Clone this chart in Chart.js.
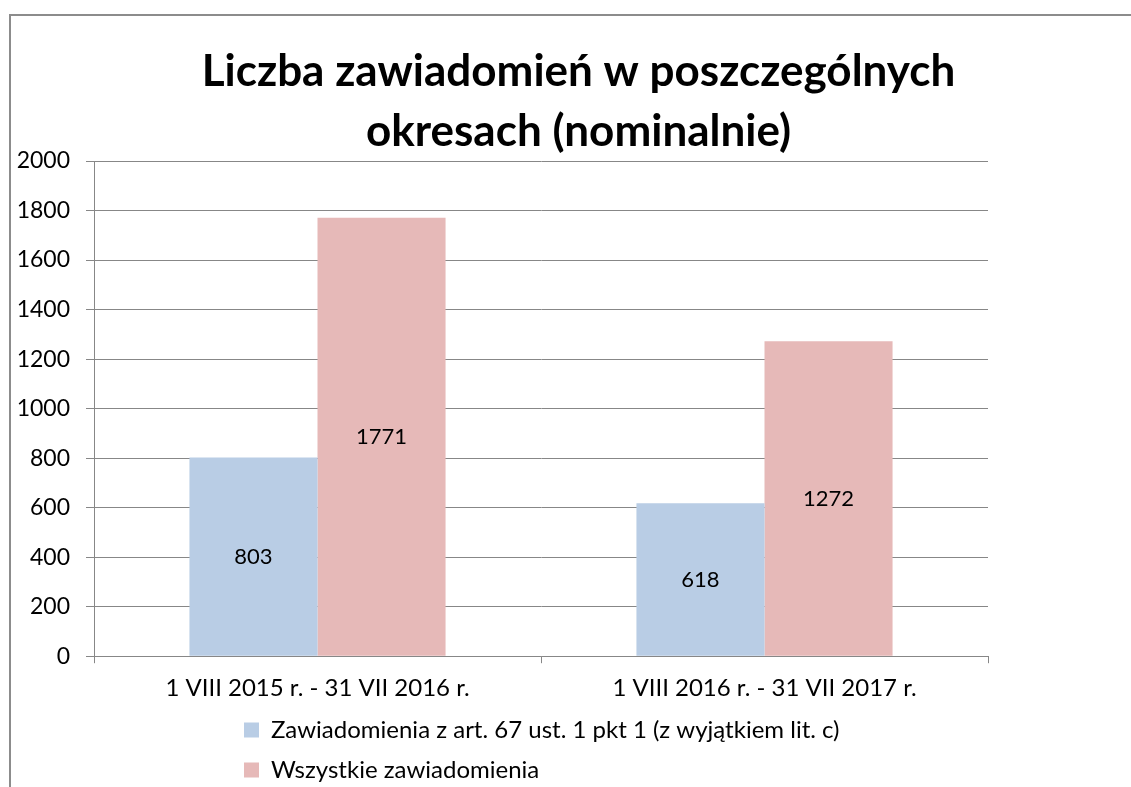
<!DOCTYPE html>
<html>
<head>
<meta charset="utf-8">
<script src="https://cdn.jsdelivr.net/npm/chart.js@4"></script>
<style>
  html, body { margin: 0; padding: 0; background: #fff; overflow: hidden; }
  #frame {
    position: absolute; left: 9px; top: 14px;
    border-left: 2px solid #8c8c8c; border-top: 2px solid #8c8c8c;
    width: 1135px; height: 790px;
  }
  #chart { display: block; }
</style>
</head>
<body>
<div id="frame"><canvas id="chart" width="1135" height="776"></canvas></div>
<script>
// data
const categories = ["1 VIII 2015 r. - 31 VII 2016 r.", "1 VIII 2016 r. - 31 VII 2017 r."];
const seriesNames = ["Zawiadomienia z art. 67 ust. 1 pkt 1 (z wyjątkiem lit. c)", "Wszystkie zawiadomienia"];
const art67Values = [803, 618];
const allValues = [1771, 1272];
const titleLines = ["Liczba zawiadomień w poszczególnych", "okresach (nominalnie)"];

const FONT = "Lato, 'Open Sans', sans-serif";
const gridColor = "#878787";

// numbers in the middle of every bar
const barLabels = {
  id: "barLabels",
  afterDatasetsDraw(chart) {
    const ctx = chart.ctx;
    ctx.save();
    ctx.font = "22px " + FONT;
    ctx.fillStyle = "#000";
    ctx.textAlign = "center";
    ctx.textBaseline = "middle";
    chart.data.datasets.forEach((ds, i) => {
      chart.getDatasetMeta(i).data.forEach((bar, j) => {
        const p = bar.getCenterPoint();
        ctx.fillText(ds.data[j], p.x, p.y);
      });
    });
    ctx.restore();
  },
};

// title centred on the whole canvas, legend rows start at the same x
const boxShift = {
  id: "boxShift",
  beforeDraw(chart) {
    chart.titleBlock.left = 0;
    chart.titleBlock.right = chart.width;
    const lg = chart.legend;
    const pad = lg.options.labels.padding;
    const w = Math.max(...lg.lineWidths);
    lg.left = chart.chartArea.left + 150 - pad;
    lg.right = lg.left + w + pad;
  },
};

const config = {
  type: "bar",
  data: {
    labels: categories,
    datasets: [
      {
        label: seriesNames[0],
        data: art67Values,
        backgroundColor: "#B9CDE5",
        categoryPercentage: 0.573,
        barPercentage: 1,
      },
      {
        label: seriesNames[1],
        data: allValues,
        backgroundColor: "#E6B9B8",
        categoryPercentage: 0.573,
        barPercentage: 1,
      },
    ],
  },
  options: {
    responsive: false,
    animation: false,
    layout: { padding: { left: 0, right: 158, top: 0, bottom: 0 } },
    plugins: {
      title: {
        display: true,
        text: titleLines,
        color: "#000",
        font: { family: FONT, size: 44, weight: "bold", lineHeight: 1.364 },
        padding: { top: 26, bottom: -1 },
      },
      legend: {
        position: "bottom",
        align: "start",
        fullSize: false,
        labels: {
          color: "#000",
          font: { family: FONT, size: 24 },
          boxWidth: 15,
          boxHeight: 15,
          padding: 16,
        },
      },
      tooltip: { enabled: false },
    },
    scales: {
      x: {
        afterFit(scale) { scale.height -= 12; },
        grid: {
          drawOnChartArea: false,
          drawTicks: true,
          tickLength: 7,
          color: gridColor,
          offset: true,
        },
        border: { color: gridColor, width: 1 },
        ticks: { color: "#000", font: { family: FONT, size: 24 }, padding: 11 },
      },
      y: {
        min: 0,
        max: 2000,
        afterFit(scale) { scale.width = 83; },
        grid: { color: gridColor, tickLength: 8 },
        border: { color: gridColor, width: 1 },
        ticks: {
          stepSize: 200,
          color: "#000",
          font: { family: FONT, size: 23 },
          padding: 16,
          callback: (v) => String(v),
        },
      },
    },
  },
  plugins: [barLabels, boxShift],
};

const myChart = new Chart(document.getElementById("chart"), config);
</script>
</body>
</html>
